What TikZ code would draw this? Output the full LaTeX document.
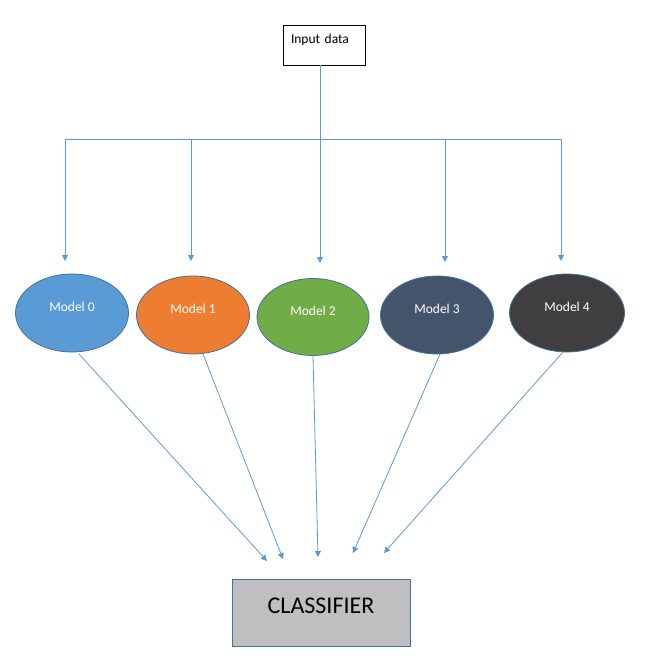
\documentclass[tikz,border=0pt]{standalone}
\usepackage{fontspec}
\setmainfont{Carlito}
\usetikzlibrary{shapes.geometric,arrows.meta}
\definecolor{lineblue}{HTML}{5B9BD5}
\definecolor{edgeblue}{HTML}{41719C}
\definecolor{m0}{HTML}{5B9BD5}
\definecolor{m1}{HTML}{ED7D31}
\definecolor{m2}{HTML}{70AD47}
\definecolor{m3}{HTML}{44546A}
\definecolor{m4}{HTML}{3F3F3F}
\definecolor{clsgray}{HTML}{BFBFBF}
\tikzset{
  conn/.style={draw=lineblue, line width=0.8pt},
  arr/.style={conn, -{Triangle[length=6pt,width=6pt]}},
  model/.style={ellipse, draw=edgeblue, line width=0.8pt, minimum width=113pt, minimum height=78pt, inner sep=0pt, text=white, font=\fontsize{13.5}{15}\selectfont, text height=5pt, text depth=8pt},
}
\begin{document}
\begin{tikzpicture}[x=1pt,y=-1pt]
\useasboundingbox (0,0) rectangle (653,671);
\node[draw=black, line width=0.8pt, minimum width=82pt, minimum height=40pt, inner xsep=8pt, text width=66pt, align=left, font=\fontsize{13.5}{15}\selectfont, text height=5pt, text depth=7pt] (input) at (324,45) {Input data};
\node[model, fill=m0] (model0) at (72,313) {Model 0};
\node[model, fill=m1] (model1) at (193,315) {Model 1};
\node[model, fill=m2, minimum width=112pt, minimum height=77pt] (model2) at (313,317) {Model 2};
\node[model, fill=m3] (model3) at (437,315) {Model 3};
\node[model, fill=m4, minimum width=115pt] (model4) at (567,313) {Model 4};
\node[draw=edgeblue, fill=clsgray, line width=0.8pt, minimum width=178pt, minimum height=67pt, inner sep=0pt, font=\fontsize{24}{28}\selectfont, text height=10pt, text depth=8pt] (cls) at (321,612.5) {CLASSIFIER};
\coordinate (bus) at (320,139);
\coordinate (b0) at (65,139);
\coordinate (b1) at (191,139);
\coordinate (b3) at (445,139);
\coordinate (b4) at (561,139);
\coordinate (t0) at (65,261);
\coordinate (t1) at (191,261);
\coordinate (t2) at (320,263);
\coordinate (t3) at (445,262);
\coordinate (t4) at (561,261);
\draw[conn] (input.south -| bus) -- (bus);
\draw[conn] (b0) -- (b4);
\draw[arr] (b0) -- (t0);
\draw[arr] (b1) -- (t1);
\draw[arr] (bus) -- (t2);
\draw[arr] (b3) -- (t3);
\draw[arr] (b4) -- (t4);
\coordinate (s0) at (79,354);
\coordinate (s1) at (203,354);
\coordinate (s2) at (313,356);
\coordinate (s3) at (440,354);
\coordinate (s4) at (563,352);
\coordinate (e0) at (267,561);
\coordinate (e1) at (283,559);
\coordinate (e2) at (318,557);
\coordinate (e3) at (353,553);
\coordinate (e4) at (384,553);
\draw[arr] (s0) -- (e0);
\draw[arr] (s1) -- (e1);
\draw[arr] (s2) -- (e2);
\draw[arr] (s3) -- (e3);
\draw[arr] (s4) -- (e4);
\end{tikzpicture}
\end{document}
